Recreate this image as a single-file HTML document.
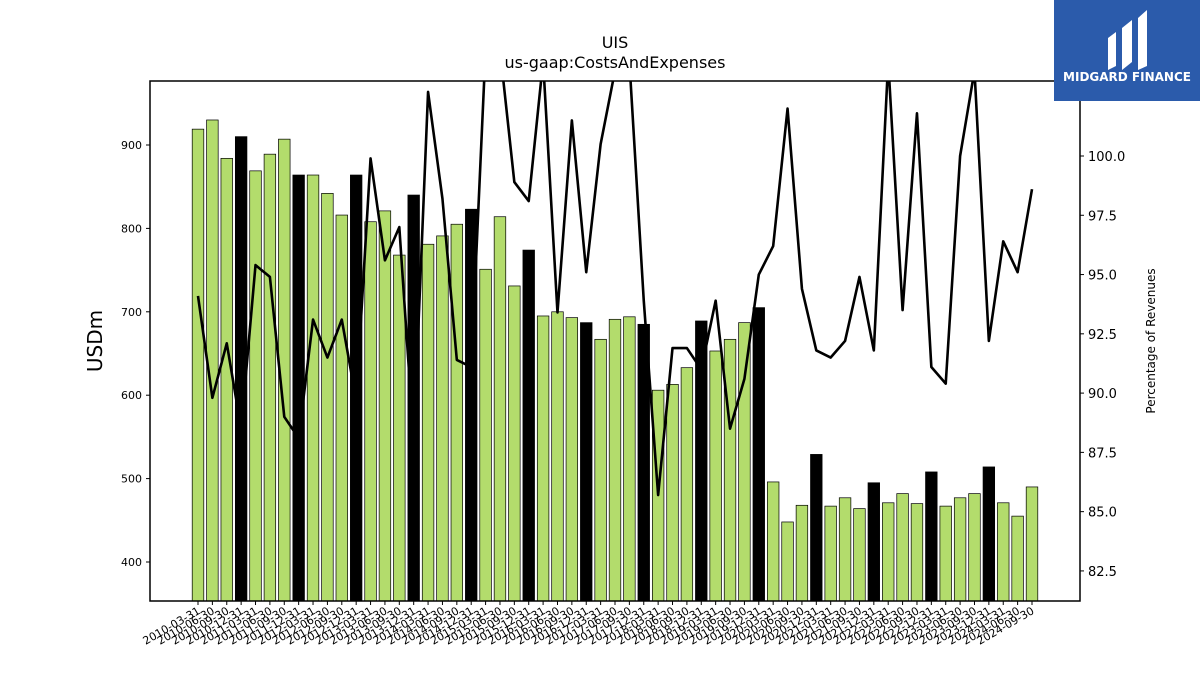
<!DOCTYPE html>
<html><head><meta charset="utf-8"><style>
body{margin:0;background:#fff;font-family:"Liberation Sans","DejaVu Sans",sans-serif;}
svg text{font-family:"DejaVu Sans","Liberation Sans",sans-serif;}
</style></head><body>
<svg id="chart" width="1200" height="675" viewBox="0 0 1200 675" xmlns="http://www.w3.org/2000/svg">
<rect x="0" y="0" width="1200" height="675" fill="#fff"/>
<text x="615" y="48" font-size="16" text-anchor="middle">UIS</text>
<text x="615" y="68" font-size="16" text-anchor="middle">us-gaap:CostsAndExpenses</text>
<defs><clipPath id="plotclip"><rect x="150" y="81" width="930" height="520"/></clipPath></defs>
<g id="bars" clip-path="url(#plotclip)"></g>
<g id="line" clip-path="url(#plotclip)"></g>
<rect x="150" y="81" width="930" height="520" fill="none" stroke="#000" stroke-width="1.5"/>
<g id="yleft"></g><g id="yright"></g><g id="xaxis"></g>
<text transform="translate(102,341) rotate(-90)" font-size="20" text-anchor="middle">USDm</text>
<text transform="translate(1155,341) rotate(-90)" font-size="12" text-anchor="middle">Percentage of Revenues</text>
<g>
<rect x="1054" y="0" width="146" height="101" fill="#2b5bab"/>
<path d="M1108 38 L1116 32 L1116 66 L1108 70 Z M1122 28 L1132 20 L1132 62 L1122 70 Z M1138 18 L1147 10 L1147 66 L1138 70 Z" fill="#fff"/>
<text x="1127" y="81" font-size="12" font-weight="bold" fill="#fff" text-anchor="middle" font-family="Liberation Sans, sans-serif">MIDGARD FINANCE</text>
</g>
</svg>
<script>
const categories=[];
for(let y=2010;y<=2024;y++){for(const q of ["03-31","06-30","09-30","12-31"]){if(y===2024&&q==="12-31")continue;categories.push(y+"-"+q);}}
const costs=[919,930,884,910,869,889,907,864,864,842,816,864,808,821,768,840,781,791,805,823,751,814,731,774,695,700,693,687,667,691,694,685,606,613,633,689,653,667,687,705,496,448,468,529,467,477,464,495,471,482,470,508,467,477,482,514,471,455,490];
const pctRevenue=[94.1,89.8,92.1,88.5,95.4,94.9,89.0,88.1,93.1,91.5,93.1,89.7,99.9,95.6,97.0,88.0,102.7,98.2,91.4,91.1,104.5,104.5,98.9,98.1,104.0,93.4,101.5,95.1,100.5,103.6,104.0,93.9,85.7,91.9,91.9,91.0,93.9,88.5,90.6,95.0,96.2,102.0,94.4,91.8,91.5,92.2,94.9,91.8,104.0,93.5,101.8,91.1,90.4,100.0,103.6,92.2,96.4,95.1,98.6];
const leftTicks=[400,500,600,700,800,900];
const rightTicks=[82.5,85.0,87.5,90.0,92.5,95.0,97.5,100.0];
const NS="http://www.w3.org/2000/svg";
const L=150,R=1080,T=81,B=601;
const yL=v=>562-(v-400)*0.834;
const yR=v=>156-(v-100)*23.71;
const step=(1032-198)/(categories.length-1);
const xC=i=>198+i*step;
function mk(t,a){const e=document.createElementNS(NS,t);for(const k in a)e.setAttribute(k,a[k]);return e;}
const gb=document.getElementById('bars');
costs.forEach((v,i)=>{const isQ4=categories[i].endsWith("12-31");
const r=mk('rect',{x:xC(i)-5.8,y:yL(v),width:11.6,height:B-yL(v),fill:isQ4?'#000':'#b3dc6c',stroke:'#000','stroke-width':0.7});


gb.appendChild(r);});
const pl=mk('polyline',{points:pctRevenue.map((v,i)=>xC(i)+','+yR(v)).join(' '),fill:'none',stroke:'#000','stroke-width':2.6,'stroke-linejoin':'round'});


document.getElementById('line').appendChild(pl);
const gl=document.getElementById('yleft');
leftTicks.forEach(v=>{const y=yL(v);gl.appendChild(mk('line',{x1:L-4,x2:L,y1:y,y2:y,stroke:'#000'}));
const t=mk('text',{x:L-8,y:y+4,'font-size':11,'text-anchor':'end'});t.textContent=v;


gl.appendChild(t);});
const gr=document.getElementById('yright');
rightTicks.forEach(v=>{const y=yR(v);gr.appendChild(mk('line',{x1:R,x2:R+4,y1:y,y2:y,stroke:'#000'}));
const t=mk('text',{x:R+8,y:y+5,'font-size':13});t.textContent=v.toFixed(1);


gr.appendChild(t);});
const gx=document.getElementById('xaxis');
categories.forEach((c,i)=>{const x=xC(i);gx.appendChild(mk('line',{x1:x,x2:x,y1:B,y2:B+4,stroke:'#000'}));
const t=mk('text',{transform:`translate(${x+3},${B+12}) rotate(-30)`,'font-size':11,'text-anchor':'end'});t.textContent=c;


gx.appendChild(t);});
</script>
</body></html>
